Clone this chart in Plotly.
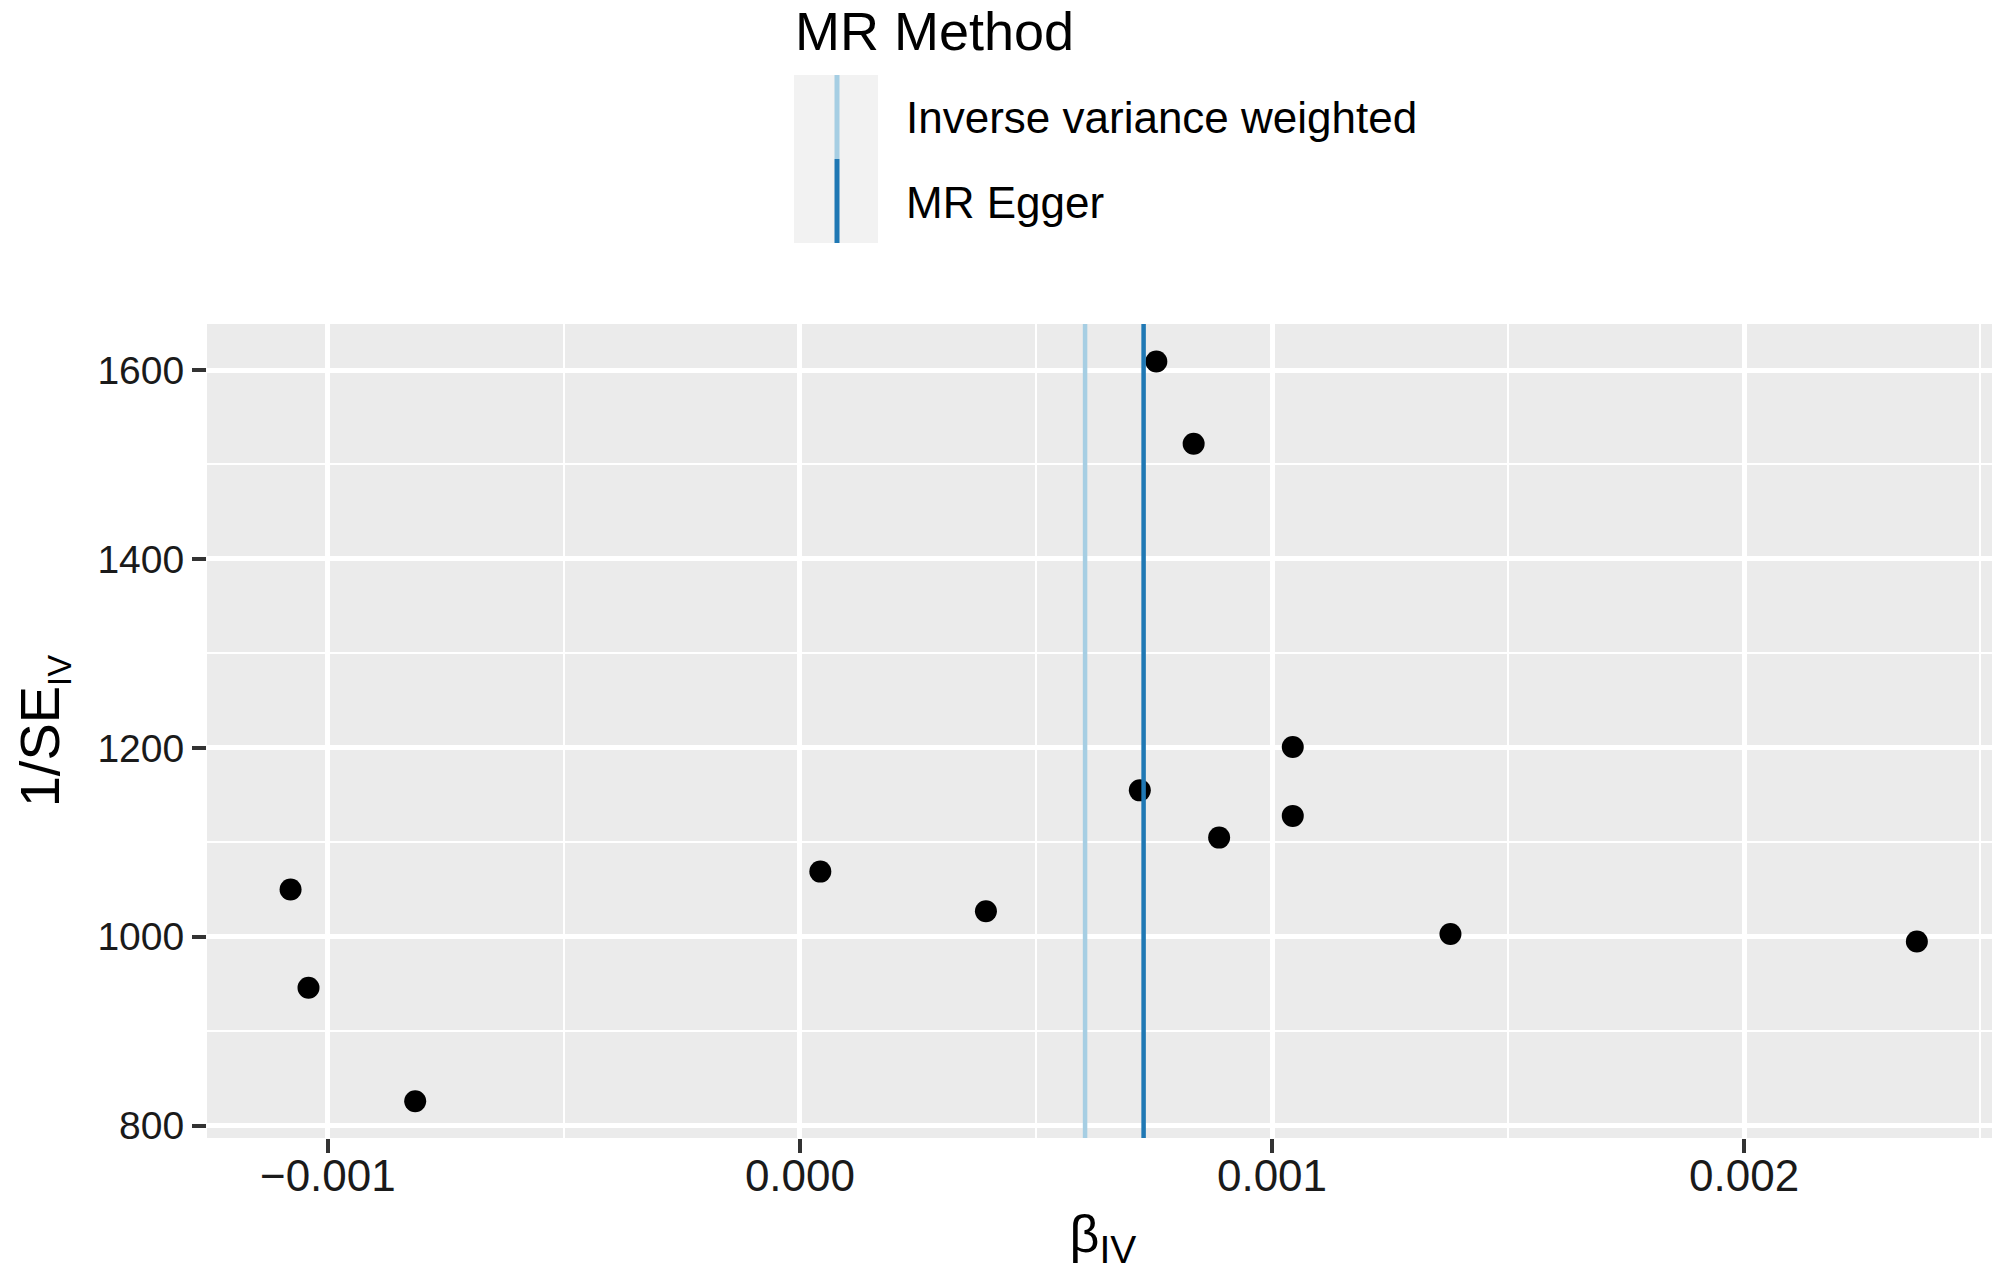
import plotly.graph_objects as go

# Data
beta_iv = [0.000755, 0.000834, 0.001044, 0.000720, 0.001044, 0.000888,
           0.0000432, -0.001079, 0.000394, 0.001378, 0.002366, -0.001041, -0.000815]
inv_se_iv = [1609, 1522, 1201, 1155, 1128, 1105, 1069, 1050, 1027, 1003, 995, 946, 826]

methods = ["Inverse variance weighted", "MR Egger"]
method_betas = [0.000604, 0.000728]
method_colors = ["#a6cee3", "#1f78b4"]

x_tickvals = [-0.001, 0.000, 0.001, 0.002]
x_ticktext = ["\u22120.001", "0.000", "0.001", "0.002"]
y_tickvals = [800, 1000, 1200, 1400, 1600]

FONT = "Liberation Sans, Arial, sans-serif"

# page body has an 8px margin; compensate so the figure fills the 2000x1271 view
OFF = 8
W, H = 2000 - OFF, 1271 - OFF
L, R, T, B = 207 - OFF, 1, 324 - OFF, 133
PW, PH = W - L - R, H - T - B


def px(x):
    return (x - OFF - L) / PW


def py(y):
    return (H - B - (y - OFF)) / PH


fig = go.Figure()

fig.add_trace(go.Scatter(
    x=beta_iv, y=inv_se_iv, mode="markers",
    marker=dict(color="black", size=22, line=dict(width=0)),
    showlegend=False, hoverinfo="x+y"))

for b, c in zip(method_betas, method_colors):
    fig.add_shape(type="line", xref="x", yref="y domain",
                  x0=b, x1=b, y0=0, y1=1,
                  line=dict(color=c, width=4.5), layer="above")

# Manual legend (vertical line keys like ggplot)
fig.add_shape(type="rect", xref="paper", yref="paper",
              x0=px(794), x1=px(878), y0=py(243), y1=py(75),
              fillcolor="#F2F2F2", line=dict(width=0))
key_spans = [(75, 159), (159, 243)]
label_y = [118, 202]
for i, (m, c) in enumerate(zip(methods, method_colors)):
    fig.add_shape(type="line", xref="paper", yref="paper",
                  x0=px(837), x1=px(837), y0=py(key_spans[i][1]), y1=py(key_spans[i][0]),
                  line=dict(color=c, width=5))
    fig.add_annotation(xref="paper", yref="paper", x=px(904), y=py(label_y[i]),
                       text=m, showarrow=False, xanchor="left", yanchor="middle",
                       font=dict(family=FONT, size=44, color="black"))
fig.add_annotation(xref="paper", yref="paper", x=px(793), y=py(31),
                   text="MR Method", showarrow=False, xanchor="left", yanchor="middle",
                   font=dict(family=FONT, size=54, color="black"))

fig.update_layout(
    width=W, height=H,
    margin=dict(l=L, r=R, t=T, b=B, autoexpand=False),
    paper_bgcolor="white", plot_bgcolor="#EBEBEB",
    font=dict(family=FONT, color="black"),
    showlegend=False,
)

fig.update_xaxes(
    range=[-0.001256, 0.00254],
    tickvals=x_tickvals, ticktext=x_ticktext,
    tickfont=dict(family=FONT, size=44, color="#1a1a1a"),
    ticks="outside", ticklen=14, tickwidth=4, tickcolor="#333333",
    ticklabelstandoff=-15,
    showgrid=True, gridcolor="white", gridwidth=4.5,
    minor=dict(dtick=0.0005, tick0=-0.0005, showgrid=True, gridcolor="white", gridwidth=2.3, ticks=""),
    zeroline=False, showline=False,
    title=dict(text="\u03b2<sub><span style='font-size:39px'>IV</span></sub>",
               font=dict(family=FONT, size=52, color="black"), standoff=16),
)
fig.update_yaxes(
    range=[787, 1648.7],
    tickvals=y_tickvals,
    tickfont=dict(family=FONT, size=39, color="#1a1a1a"),
    ticks="outside", ticklen=14, tickwidth=4, tickcolor="#333333",
    showgrid=True, gridcolor="white", gridwidth=4.5,
    minor=dict(dtick=200, tick0=900, showgrid=True, gridcolor="white", gridwidth=2.3, ticks=""),
    zeroline=False, showline=False,
    title=dict(text="1/SE<sub><span style='font-size:33px'>IV</span></sub>",
               font=dict(family=FONT, size=56, color="black"), standoff=24),
)

fig.write_html("out.html")
